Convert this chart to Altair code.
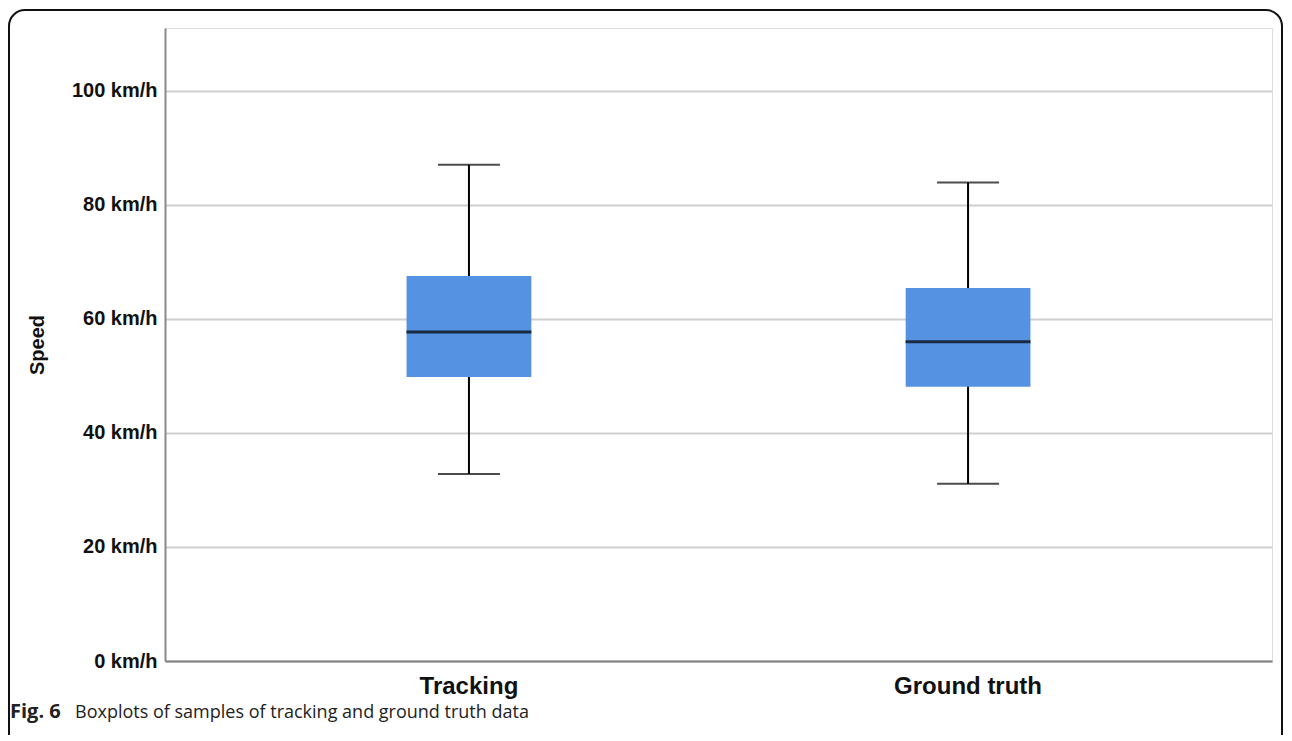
import altair as alt
import pandas as pd

categories = ["Tracking", "Ground truth"]
whisker_low = [32.8, 31.1]
q1 = [49.8, 48.1]
median = [57.7, 56.0]
q3 = [67.5, 65.4]
whisker_high = [87.0, 83.9]
y_ticks = [0, 20, 40, 60, 80, 100]

df = pd.DataFrame({
    "cat": categories,
    "lo": whisker_low,
    "q1": q1,
    "med": median,
    "q3": q3,
    "hi": whisker_high,
})

FONT = "Liberation Sans"
BOX = "#5592E2"

x_enc = alt.X(
    "cat:N",
    sort=categories,
    title=None,
    scale=alt.Scale(paddingInner=0.75, paddingOuter=0.484),
    axis=alt.Axis(
        labelFont=FONT, labelFontSize=24, labelFontWeight="bold", labelColor="#111",
        labelPadding=13, labelAngle=0, ticks=False, grid=False,
        domainColor="#7f7f7f", domainWidth=2,
    ),
)
y_scale = alt.Scale(domain=[0, 111], nice=False, zero=True)
y_axis = alt.Axis(
    values=y_ticks,
    labelExpr="datum.value + ' km/h'",
    labelFont=FONT, labelFontSize=20, labelFontWeight="bold", labelColor="#111",
    labelPadding=8, ticks=False,
    grid=True, gridColor="#cfcfcf", gridWidth=2,
    domainColor="#8a8a8a", domainWidth=2,
    title="Speed", titleFont=FONT, titleFontSize=20, titleFontWeight="bold",
    titleColor="#111", titlePadding=24,
)

base = alt.Chart(df)

whisker = base.mark_rule(color="black", strokeWidth=2).encode(
    x=x_enc,
    y=alt.Y("lo:Q", scale=y_scale, axis=y_axis),
    y2="hi:Q",
)
box = base.mark_bar(color=BOX).encode(
    x=x_enc,
    y=alt.Y("q1:Q", scale=y_scale, axis=y_axis),
    y2="q3:Q",
)
med = base.mark_tick(color="black", thickness=3, size=125, orient="horizontal").encode(
    x=x_enc, y=alt.Y("med:Q", scale=y_scale, axis=y_axis)
)
cap_lo = base.mark_tick(color="black", thickness=2, size=62, orient="horizontal").encode(
    x=x_enc, y=alt.Y("lo:Q", scale=y_scale, axis=y_axis)
)
cap_hi = base.mark_tick(color="black", thickness=2, size=62, orient="horizontal").encode(
    x=x_enc, y=alt.Y("hi:Q", scale=y_scale, axis=y_axis)
)

one = alt.Chart(pd.DataFrame({"a": [0]}))
frame = one.mark_rect(
    fill=None, stroke="#111", strokeWidth=2, cornerRadius=16, clip=False
).encode(
    x=alt.value(-156), x2=alt.value(1117), y=alt.value(-18), y2=alt.value(730)
)
cap_bold = one.mark_text(
    text="Fig. 6", font="Open Sans", fontSize=20, fontWeight="bold",
    align="left", baseline="alphabetic", color="#222",
).encode(x=alt.value(-155), y=alt.value(690))
cap_norm = one.mark_text(
    text="Boxplots of samples of tracking and ground truth data",
    font="Open Sans", fontSize=18, align="left", baseline="alphabetic", color="#222",
).encode(x=alt.value(-90), y=alt.value(690))

chart = alt.layer(whisker, box, med, cap_lo, cap_hi, frame, cap_bold, cap_norm).properties(
    width=1107,
    height=633,
    autosize=alt.AutoSizeParams(type="none"),
    padding={"left": 157, "top": 20, "right": 12, "bottom": 74},
).configure_view(stroke=None).configure(background="white")

chart.save("out.html", embed_options={"renderer": "svg", "actions": False})
